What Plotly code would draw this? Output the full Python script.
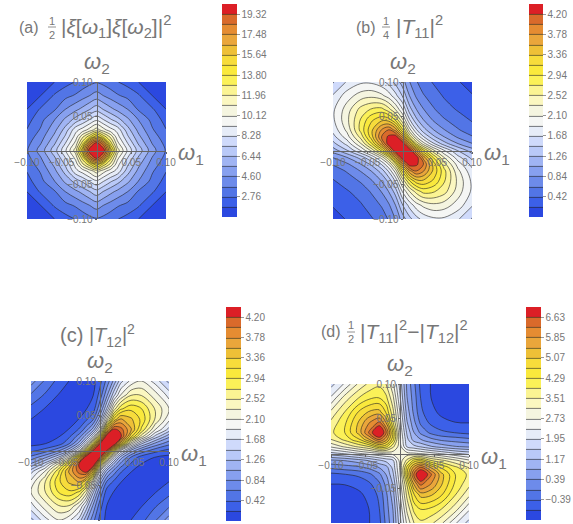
import plotly.graph_objects as go

W, H = 573, 524
nodes = [-0.10, -0.08, -0.06, -0.045, -0.03, -0.02, -0.01, 0, 0.01, 0.02, 0.03, 0.045, 0.06, 0.08, 0.10]

z_a = [
 [0.9,1.3,1.85,2.4,2.8,3.1,3.4,3.6,3.4,3.1,2.8,2.4,1.85,1.3,0.9],
 [1.3,1.85,2.9,3.4,3.8,4.2,4.6,5.0,4.6,4.2,3.8,3.4,2.9,1.85,1.3],
 [1.85,2.9,3.6,4.6,5.3,5.8,6.4,7.0,6.4,5.8,5.3,4.6,3.6,2.9,1.85],
 [2.4,3.4,4.6,5.7,6.8,7.5,8.3,9.0,8.3,7.5,6.8,5.7,4.6,3.4,2.4],
 [2.8,3.8,5.3,6.8,8.9,9.6,10.5,11.5,10.5,9.6,8.9,6.8,5.3,3.8,2.8],
 [3.1,4.2,5.8,7.5,9.6,11.8,13.5,15.5,13.5,11.8,9.6,7.5,5.8,4.2,3.1],
 [3.4,4.6,6.4,8.3,10.5,13.5,18.0,20.0,18.0,13.5,10.5,8.3,6.4,4.6,3.4],
 [3.6,5.0,7.0,9.0,11.5,15.5,20.0,21.5,20.0,15.5,11.5,9.0,7.0,5.0,3.6],
 [3.4,4.6,6.4,8.3,10.5,13.5,18.0,20.0,18.0,13.5,10.5,8.3,6.4,4.6,3.4],
 [3.1,4.2,5.8,7.5,9.6,11.8,13.5,15.5,13.5,11.8,9.6,7.5,5.8,4.2,3.1],
 [2.8,3.8,5.3,6.8,8.9,9.6,10.5,11.5,10.5,9.6,8.9,6.8,5.3,3.8,2.8],
 [2.4,3.4,4.6,5.7,6.8,7.5,8.3,9.0,8.3,7.5,6.8,5.7,4.6,3.4,2.4],
 [1.85,2.9,3.6,4.6,5.3,5.8,6.4,7.0,6.4,5.8,5.3,4.6,3.6,2.9,1.85],
 [1.3,1.85,2.9,3.4,3.8,4.2,4.6,5.0,4.6,4.2,3.8,3.4,2.9,1.85,1.3],
 [0.9,1.3,1.85,2.4,2.8,3.1,3.4,3.6,3.4,3.1,2.8,2.4,1.85,1.3,0.9],
]

z_b = [
 [0.15,0.22,0.3,0.4,0.5,0.65,0.85,1.15,1.4,1.6,1.75,1.85,1.85,1.7,1.45],
 [0.22,0.3,0.4,0.5,0.65,0.8,1.05,1.45,1.75,2.0,2.15,2.25,2.2,2.0,1.7],
 [0.3,0.4,0.5,0.65,0.85,1.05,1.35,1.9,2.3,2.6,2.8,2.75,2.6,2.2,1.85],
 [0.4,0.5,0.65,0.8,1.05,1.3,1.7,2.35,2.9,3.25,3.3,3.1,2.75,2.25,1.85],
 [0.5,0.65,0.85,1.05,1.35,1.7,2.2,3.0,3.7,4.0,3.8,3.3,2.8,2.15,1.75],
 [0.65,0.8,1.05,1.3,1.7,2.1,2.7,3.7,4.35,4.25,4.0,3.25,2.6,2.0,1.6],
 [0.85,1.05,1.35,1.7,2.2,2.7,3.6,4.4,4.6,4.35,3.7,2.9,2.3,1.75,1.4],
 [1.15,1.45,1.9,2.35,3.0,3.7,4.4,4.7,4.4,3.7,3.0,2.35,1.9,1.45,1.15],
 [1.4,1.75,2.3,2.9,3.7,4.35,4.6,4.4,3.6,2.7,2.2,1.7,1.35,1.05,0.85],
 [1.6,2.0,2.6,3.25,4.0,4.25,4.35,3.7,2.7,2.1,1.7,1.3,1.05,0.8,0.65],
 [1.75,2.15,2.8,3.3,3.8,4.0,3.7,3.0,2.2,1.7,1.35,1.05,0.85,0.65,0.5],
 [1.85,2.25,2.75,3.1,3.3,3.25,2.9,2.35,1.7,1.3,1.05,0.8,0.65,0.5,0.4],
 [1.85,2.2,2.6,2.75,2.8,2.6,2.3,1.9,1.35,1.05,0.85,0.65,0.5,0.4,0.3],
 [1.7,2.0,2.2,2.25,2.15,2.0,1.75,1.45,1.05,0.8,0.65,0.5,0.4,0.3,0.22],
 [1.45,1.7,1.85,1.85,1.75,1.6,1.4,1.15,0.85,0.65,0.5,0.4,0.3,0.22,0.15],
]

z_c = [
 [1.4,1.8,2.1,1.95,1.6,1.1,0.7,0.35,0.14,0.08,0.1,0.21,0.35,0.6,0.95],
 [1.8,2.2,2.5,2.5,2.1,1.6,1.0,0.5,0.2,0.08,0.05,0.1,0.2,0.4,0.6],
 [2.1,2.5,2.95,3.1,2.9,2.4,1.5,0.8,0.3,0.2,0.1,0.05,0.08,0.2,0.35],
 [1.95,2.5,3.1,3.4,3.6,3.2,2.2,1.2,0.6,0.38,0.22,0.08,0.05,0.1,0.21],
 [1.6,2.1,2.9,3.6,4.1,4.3,3.4,1.9,1.15,0.75,0.45,0.22,0.1,0.05,0.1],
 [1.1,1.6,2.4,3.2,4.3,4.6,4.5,3.0,1.8,1.2,0.75,0.38,0.2,0.08,0.08],
 [0.7,1.0,1.5,2.2,3.4,4.5,4.7,4.2,2.9,1.8,1.15,0.6,0.3,0.2,0.14],
 [0.35,0.5,0.8,1.2,1.9,3.0,4.2,4.7,4.2,3.0,1.9,1.2,0.8,0.5,0.35],
 [0.14,0.2,0.3,0.6,1.15,1.8,2.9,4.2,4.7,4.5,3.4,2.2,1.5,1.0,0.7],
 [0.08,0.08,0.2,0.38,0.75,1.2,1.8,3.0,4.5,4.6,4.3,3.2,2.4,1.6,1.1],
 [0.1,0.05,0.1,0.22,0.45,0.75,1.15,1.9,3.4,4.3,4.1,3.6,2.9,2.1,1.6],
 [0.21,0.1,0.05,0.08,0.22,0.38,0.6,1.2,2.2,3.2,3.6,3.4,3.1,2.5,1.95],
 [0.35,0.2,0.08,0.05,0.1,0.2,0.3,0.8,1.5,2.4,2.9,3.1,2.95,2.5,2.1],
 [0.6,0.4,0.2,0.1,0.05,0.08,0.2,0.5,1.0,1.6,2.1,2.5,2.5,2.2,1.8],
 [0.95,0.6,0.35,0.21,0.1,0.08,0.14,0.35,0.7,1.1,1.6,1.95,2.1,1.8,1.4],
]

z_d = [
 [-1.1,-1.05,-0.95,-0.8,-0.5,0.1,0.7,1.8,2.8,3.5,3.8,3.6,3.2,2.4,1.8],
 [-1.05,-1.0,-0.9,-0.78,-0.4,0.2,0.8,2.0,3.2,4.0,4.3,4.2,3.9,3.3,2.4],
 [-0.95,-0.9,-0.85,-0.7,-0.3,0.3,1.0,2.3,3.6,4.6,5.2,5.1,4.7,3.9,3.2],
 [-0.8,-0.78,-0.7,-0.5,-0.1,0.5,1.2,2.5,3.9,5.4,6.3,5.8,5.1,4.2,3.6],
 [-0.5,-0.4,-0.3,-0.1,0.3,0.8,1.5,2.7,4.6,6.3,7.3,6.3,5.2,4.3,3.8],
 [0.1,0.2,0.3,0.5,0.8,1.0,1.7,2.8,4.4,5.6,6.3,5.4,4.6,4.0,3.5],
 [0.7,0.8,1.0,1.2,1.5,1.7,1.9,2.9,3.6,4.4,4.6,3.9,3.6,3.2,2.8],
 [1.8,2.0,2.3,2.5,2.7,2.8,2.9,2.9,2.9,2.8,2.7,2.5,2.3,2.0,1.8],
 [2.8,3.2,3.6,3.9,4.6,4.4,3.6,2.9,1.9,1.7,1.5,1.2,1.0,0.8,0.7],
 [3.5,4.0,4.6,5.4,6.3,5.6,4.4,2.8,1.7,1.0,0.8,0.5,0.3,0.2,0.1],
 [3.8,4.3,5.2,6.3,7.3,6.3,4.6,2.7,1.5,0.8,0.3,-0.1,-0.3,-0.4,-0.5],
 [3.6,4.2,5.1,5.8,6.3,5.4,3.9,2.5,1.2,0.5,-0.1,-0.5,-0.7,-0.78,-0.8],
 [3.2,3.9,4.7,5.1,5.2,4.6,3.6,2.3,1.0,0.3,-0.3,-0.7,-0.85,-0.9,-0.95],
 [2.4,3.3,3.9,4.2,4.3,4.0,3.2,2.0,0.8,0.2,-0.4,-0.78,-0.9,-1.0,-1.05],
 [1.8,2.4,3.2,3.6,3.8,3.5,2.8,1.8,0.7,0.1,-0.5,-0.8,-0.95,-1.05,-1.1],
]

ticks_a = [2.76, 4.60, 6.44, 8.28, 10.12, 11.96, 13.80, 15.64, 17.48, 19.32]
ticks_b = [0.42, 0.84, 1.26, 1.68, 2.10, 2.52, 2.94, 3.36, 3.78, 4.20]
ticks_c = [0.42, 0.84, 1.26, 1.68, 2.10, 2.52, 2.94, 3.36, 3.78, 4.20]
ticks_d = [-0.39, 0.39, 1.17, 1.95, 2.73, 3.51, 4.29, 5.07, 5.85, 6.63]

axis_ticks = [-0.10, -0.05, 0.05, 0.10]
axis_labels = ["\u22120.10", "\u22120.05", "0.05", "0.10"]

band_colors = ["#2b48e0", "#3c60e8", "#5275e6", "#6d8bea", "#87a0ef", "#a0b4f3", "#b9c9f8",
               "#cfdafb", "#e6ecf8", "#f5f6f4", "#f5f5e0", "#fbf7c0", "#fbf493", "#fbf158",
               "#fae93c", "#f7dc3b", "#eec037", "#eaa63b", "#e58c32", "#d96a2b", "#dc1f26"]
scale = [[i / (len(band_colors) - 1), c] for i, c in enumerate(band_colors)]

TEXT = "#777777"
FONT = "Liberation Sans"

# plot frame and colour bar rectangles, in page pixels: left, right, top, bottom
panels = [
    dict(z=z_a, ticks=ticks_a, step=0.92, start=1.84, frame=(27, 166, 82, 219), bar=(222, 237, 4, 217)),
    dict(z=z_b, ticks=ticks_b, step=0.21, start=0.21, frame=(333, 472, 82, 219), bar=(529, 543, 4, 217)),
    dict(z=z_c, ticks=ticks_c, step=0.21, start=0.21, frame=(31, 169, 381, 520), bar=(226, 241, 307, 521)),
    dict(z=z_d, ticks=ticks_d, step=0.39, start=-0.78, frame=(331, 469, 384, 523), bar=(526, 541, 307, 520)),
]


def px(x):
    return x / W


def py(y):
    return 1 - y / H


fig = go.Figure()
layout = {}
annotations = []
shapes = []


def note(x, y, text, size, anchor="left", yanchor="middle"):
    annotations.append(dict(
        x=px(x), y=py(y), xref="paper", yref="paper", text=text, showarrow=False,
        xanchor=anchor, yanchor=yanchor, align="center",
        font=dict(family=FONT, size=size, color=TEXT),
    ))


for i, p in enumerate(panels):
    n = "" if i == 0 else str(i + 1)
    l, r, t, b = p["frame"]
    bl, br, bt, bb = p["bar"]
    top = p["ticks"][-1]
    fig.add_trace(go.Contour(
        x=nodes, y=nodes, z=p["z"], xaxis="x" + n, yaxis="y" + n,
        colorscale=scale, zmin=p["start"] - p["step"], zmax=top + p["step"],
        autocontour=False,
        contours=dict(start=p["start"], end=top, size=p["step"], coloring="fill"),
        line=dict(color="rgba(35,35,35,0.75)", width=0.8, smoothing=1.0),
        hoverinfo="skip",
        colorbar=dict(
            x=px(bl), xanchor="left", y=py(bt), yanchor="top",
            len=(bb - bt) / H, lenmode="fraction", thickness=br - bl, thicknessmode="pixels",
            xpad=0, ypad=0, outlinewidth=0,
            tickvals=p["ticks"], ticktext=["{:.2f}".format(v).replace("-", "\u2212") for v in p["ticks"]],
            ticks="outside", ticklen=3, tickcolor="#999999", tickwidth=0.7,
            tickfont=dict(family=FONT, size=10, color=TEXT),
        ),
    ))
    common = dict(
        range=[-0.1, 0.1], tickvals=axis_ticks, ticktext=axis_labels, ticks="outside", ticklen=2,
        tickcolor="#666666", tickwidth=0.7, showline=True, linecolor="#666666", linewidth=1,
        showgrid=False, zeroline=False, tickfont=dict(family=FONT, size=10, color=TEXT),
        anchor="free",
    )
    layout["xaxis" + n] = dict(common, domain=[px(l), px(r)], position=py((t + b) / 2), side="bottom")
    layout["yaxis" + n] = dict(common, domain=[py(b), py(t)], position=px((l + r) / 2), side="left")
    # axis names
    note((l + r) / 2, t - 19, "<i>\u03c9</i><sub>2</sub>", 22, "center")
    note(r + 10, (t + b) / 2 + 4, "<i>\u03c9</i><sub>1</sub>", 22, "left")

# panel titles
note(17, 27, "(a)", 16)
note(52, 28, "1<br>2", 11, "center")
note(59, 26, "|<i>\u03be</i>[<i>\u03c9</i><sub>1</sub>]<i>\u03be</i>[<i>\u03c9</i><sub>2</sub>]|<sup>2</sup>", 21)
note(354, 27, "(b)", 16)
note(386, 28, "1<br>4", 11, "center")
note(394, 26, "|<i>T</i><sub>11</sub>|<sup>2</sup>", 21)
note(58, 335, "(c) |<i>T</i><sub>12</sub>|<sup>2</sup>", 20)
note(319, 331, "(d)", 16)
note(351, 332, "1<br>2", 11, "center")
note(358, 331, "|<i>T</i><sub>11</sub>|<sup>2</sup>\u2212|<i>T</i><sub>12</sub>|<sup>2</sup>", 21)
for x0, y0 in ((52, 27), (386, 27), (351, 332)):
    shapes.append(dict(type="line", xref="paper", yref="paper", x0=px(x0 - 4), x1=px(x0 + 4),
                       y0=py(y0), y1=py(y0), line=dict(color=TEXT, width=0.8)))

fig.update_layout(
    width=W, height=H, margin=dict(l=0, r=0, t=0, b=0, autoexpand=False),
    paper_bgcolor="white", plot_bgcolor="white", showlegend=False,
    annotations=annotations, shapes=shapes, **layout,
)
fig.write_html("out.html", config={"displayModeBar": False},
               post_script="document.body.style.margin='0';")
